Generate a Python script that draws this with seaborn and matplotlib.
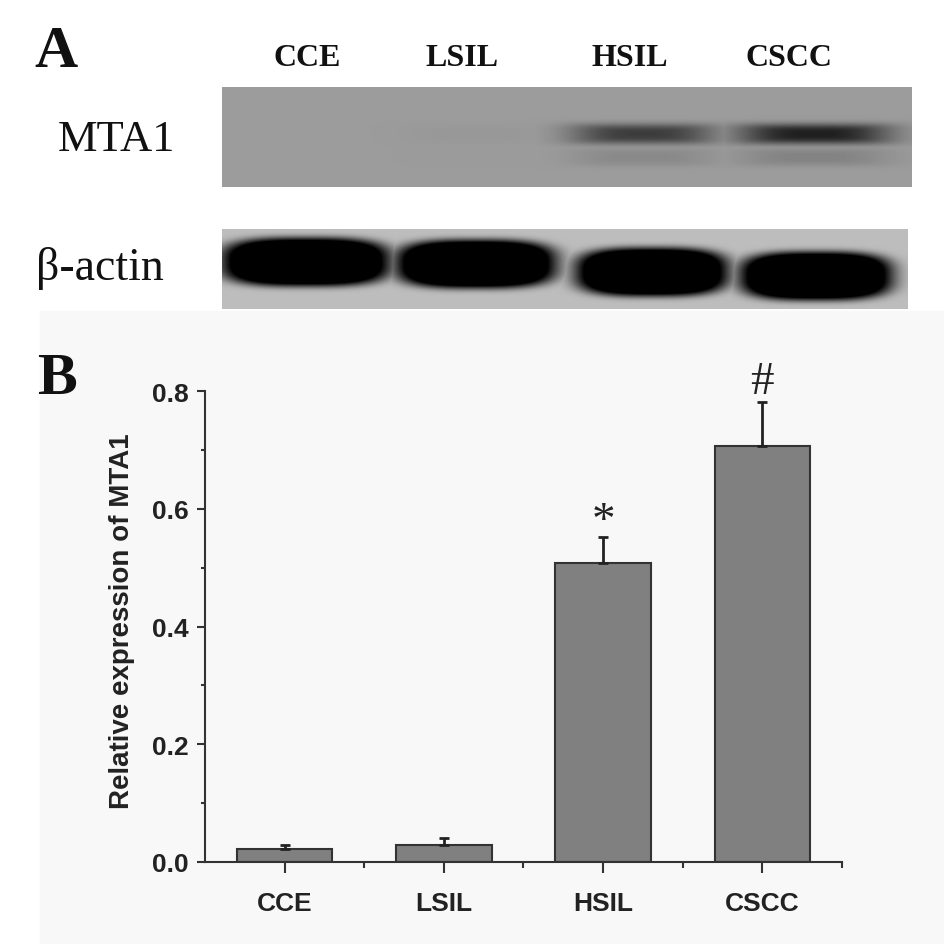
import numpy as np
import pandas as pd
import matplotlib
matplotlib.use("Agg")
import matplotlib.pyplot as plt
import seaborn as sns
from matplotlib.patches import Rectangle
from matplotlib.ticker import FixedLocator

# --- data ---
groups = ["CCE", "LSIL", "HSIL", "CSCC"]
expression = [0.022, 0.029, 0.508, 0.706]
sem = [0.007, 0.012, 0.044, 0.075]
marks = ["", "", "*", "#"]
yticks = [0.0, 0.2, 0.4, 0.6, 0.8]

# relative band strength used to draw the blot in panel A
mta1_band = [0.0, 0.03, 0.7, 0.92]
actin_band = [1.0, 1.0, 1.0, 1.0]


def band(X, Y, cx, hw, cy, hh, p, q):
    # superellipse blob with soft edge
    r = np.abs((X - cx) / hw) ** p + np.abs((Y - cy) / hh) ** p
    r = r ** (1.0 / p)
    return np.exp(-r ** q)


def blot(ax, x0, x1, y0, y1, base, bands, floor, p, q):
    xs = np.arange(x0, x1) + 0.5
    ys = np.arange(y0, y1) + 0.5
    X, Y = np.meshgrid(xs, ys)
    dens = np.zeros(X.shape)
    for lv, cx, hw, cy, hh in bands:
        dens = np.maximum(dens, lv * band(X, Y, cx, hw, cy, hh, p, q))
    img = np.clip(base - (base - floor) * dens, 0, 1)
    ax.imshow(img, cmap="gray", vmin=0, vmax=1, extent=(x0, x1, y1, y0),
              interpolation="bilinear", aspect="auto", zorder=2)


def main():
    sns.set_style("ticks")
    plt.rcParams["font.family"] = ["Liberation Sans", "DejaVu Sans"]

    fig = plt.figure(figsize=(9.45, 9.45), dpi=100)

    # overlay in figure pixels for panel A and letters
    bg = fig.add_axes([0, 0, 1, 1])
    bg.set_xlim(0, 945)
    bg.set_ylim(945, 0)
    bg.axis("off")
    bg.add_patch(Rectangle((40, 312), 905, 633, color="#f8f8f8", zorder=0))

    serif = ["Liberation Serif", "DejaVu Serif"]
    bg.text(56, 53, "A", fontsize=43, fontweight="bold", family=serif, ha="center", va="center", color="#111")
    bg.text(57, 380, "B", fontsize=43, fontweight="bold", family=serif, ha="center", va="center", color="#111")

    lane_x = [307, 462, 630, 789]
    for g, lx in zip(groups, lane_x):
        bg.text(lx, 58, g, fontsize=23, fontweight="bold", family=serif, ha="center", va="center", color="#111")
    bg.text(116, 140, "MTA1", fontsize=32, family=serif, ha="center", va="center", color="#111")
    bg.text(100, 268, "β-actin", fontsize=33, family=serif, ha="center", va="center", color="#111")

    # MTA1 strip
    mta_cx = [306, 476, 643, 814]
    mta_hw = [72, 72, 72, 76]
    bands = []
    for lv, cx, hw in zip(mta1_band, mta_cx, mta_hw):
        bands.append((lv, cx, hw, 135, 10))
        bands.append((lv * 0.2, cx, hw, 158, 9))
    blot(bg, 222, 912, 88, 188, 0.61, bands, 0.08, p=4, q=3)

    # beta-actin strip
    act_cx = [306, 476, 652, 816]
    act_hw = [84, 80, 76, 76]
    act_cy = [263, 265, 273, 277]
    bands = []
    for lv, cx, hw, cy in zip(actin_band, act_cx, act_hw, act_cy):
        bands.append((lv, cx, hw, cy, 24))
    blot(bg, 222, 908, 230, 310, 0.74, bands, -0.5, p=3, q=6)

    # --- panel B bar chart ---
    ax = fig.add_axes([205 / 945, 1 - 863 / 945, (842 - 205) / 945, (863 - 392) / 945])
    ax.patch.set_alpha(0)
    df = pd.DataFrame({"group": groups, "value": expression})
    sns.barplot(data=df, x="group", y="value", color="#808080", saturation=1,
                width=0.6, edgecolor="#333333", linewidth=1.5, errorbar=None, ax=ax)
    ax.errorbar(np.arange(len(groups)), expression, yerr=[np.zeros(len(sem)), sem],
                fmt="none", ecolor="#222222", elinewidth=2, capsize=3.6, capthick=2)

    offsets = {"*": 0.026, "#": 0.034}
    for i, (m, v, e) in enumerate(zip(marks, expression, sem)):
        if m:
            ax.text(i, v + e + offsets[m], m, fontsize=34, family=serif, ha="center",
                    va="center", color="#222", clip_on=False)

    ax.set_xlim(-0.5, 3.5)
    ax.set_ylim(0, 0.8)
    ax.set_yticks(yticks)
    ax.set_yticklabels([f"{t:.1f}" for t in yticks])
    ax.yaxis.set_minor_locator(FixedLocator([0.1, 0.3, 0.5, 0.7]))
    ax.xaxis.set_minor_locator(FixedLocator([0.5, 1.5, 2.5, 3.5]))
    ax.set_xlabel("")
    ax.set_ylabel("")
    sns.despine(ax=ax)
    for s in ["left", "bottom"]:
        ax.spines[s].set_linewidth(1.5)
        ax.spines[s].set_color("#333333")
    ax.tick_params(axis="x", which="major", direction="out", length=8, width=1.5, color="#333", pad=13)
    ax.tick_params(axis="x", which="minor", direction="out", length=4, width=1.5, color="#333")
    ax.tick_params(axis="y", which="major", direction="out", length=6, width=1.5, color="#333", pad=6)
    ax.tick_params(axis="y", which="minor", direction="out", length=3, width=1.5, color="#333")
    for lab in ax.get_xticklabels() + ax.get_yticklabels():
        lab.set_fontsize(19)
        lab.set_fontweight("bold")
        lab.set_color("#222")

    fig.text(122 / 945, 1 - 621 / 945, "Relative expression of MTA1", rotation=90,
             fontsize=20, fontweight="bold", ha="center", va="center", color="#222")

    fig.savefig("out.png", dpi=100)


if __name__ == "__main__":
    main()
